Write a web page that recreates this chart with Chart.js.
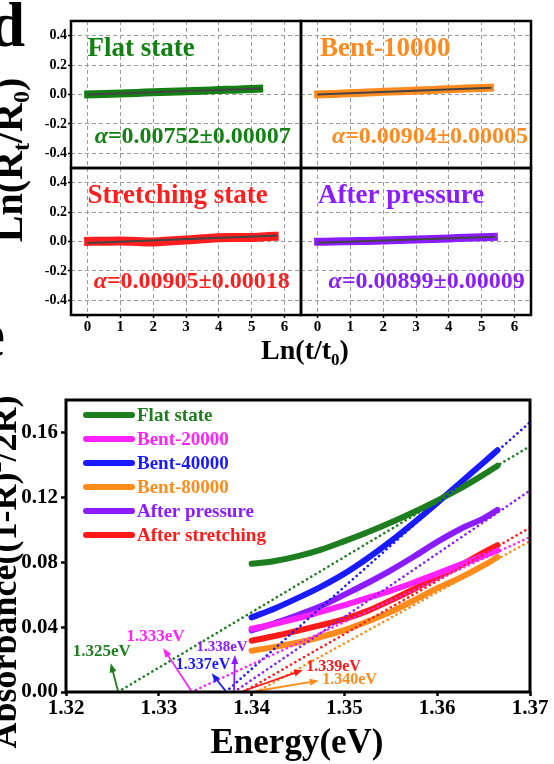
<!DOCTYPE html>
<html>
<head>
<meta charset="utf-8">
<script src="https://cdn.jsdelivr.net/npm/chart.js@4.4.0/dist/chart.umd.min.js"></script>
<style>
  html, body { margin: 0; padding: 0; background: #fff; }
  #page { position: relative; width: 554px; height: 764px; overflow: hidden; background: #fff; }
  #page canvas { position: absolute; left: 0; top: 0; }
</style>
</head>
<body>
<div id="page">
  <canvas id="cTL" width="554" height="764"></canvas>
  <canvas id="cTR" width="554" height="764"></canvas>
  <canvas id="cBL" width="554" height="764"></canvas>
  <canvas id="cBR" width="554" height="764"></canvas>
  <canvas id="cAbs" width="554" height="764"></canvas>
</div>
<script>
// ─────────────────────────────────────────────────────────
//  Data
// ─────────────────────────────────────────────────────────

// panel d : Ln(Rt/R0) vs Ln(t/t0)
const SUB_X_TICKS = [0, 1, 2, 3, 4, 5, 6];
const SUB_Y_TICKS = [-0.4, -0.2, 0, 0.2, 0.4];

const flatLnT  = [-0.1, 0.5, 1, 1.5, 2, 2.5, 3, 3.5, 4, 4.5, 5, 5.35];
const flatLnR  = [0.0, 0.004, 0.007, 0.011, 0.015, 0.019, 0.022, 0.026, 0.030, 0.033, 0.037, 0.040];
const flatFitT = [0, 5.3];
const flatFitR = [0.0, 0.040];

const bentLnT  = [-0.1, 0.5, 1, 1.5, 2, 2.5, 3, 3.5, 4, 4.5, 5, 5.37];
const bentLnR  = [0.0, 0.004, 0.009, 0.013, 0.018, 0.022, 0.027, 0.031, 0.036, 0.040, 0.045, 0.048];
const bentFitT = [0, 5.3];
const bentFitR = [0.0, 0.046];

const strLnT   = [-0.1, 0.5, 1.0, 1.5, 2.0, 2.5, 3.0, 3.5, 4.0, 4.5, 5.0, 5.5, 5.82];
const strLnR   = [0.0, 0.002, 0.003, 0.0, -0.003, 0.003, 0.010, 0.018, 0.026, 0.027, 0.028, 0.034, 0.036];
const strFitT  = [0, 5.8];
const strFitR  = [-0.010, 0.040];

const presLnT  = [-0.1, 0.5, 1, 1.5, 2, 2.5, 3, 3.5, 4, 4.5, 5, 5.49];
const presLnR  = [-0.002, 0.0, 0.002, 0.004, 0.007, 0.010, 0.013, 0.017, 0.021, 0.025, 0.029, 0.033];
const presFitT = [0, 5.4];
const presFitR = [-0.008, 0.032];

// panel e : absorbance vs energy
const ENERGY_TICKS = [1.32, 1.33, 1.34, 1.35, 1.36, 1.37];
const ABS_TICKS    = [0, 0.04, 0.08, 0.12, 0.16];
const ENERGY = [1.340, 1.3425, 1.345, 1.3475, 1.350, 1.3525, 1.355, 1.3575, 1.360, 1.3625, 1.365, 1.3665];

const SERIES_LABELS = ['Flat state', 'Bent-20000', 'Bent-40000', 'Bent-80000', 'After pressure', 'After stretching'];
const absFlat  = [0.0790, 0.0808, 0.0838, 0.0878, 0.0930, 0.0985, 0.1045, 0.1110, 0.1180, 0.1255, 0.1340, 0.1395];
const absB20   = [0.0390, 0.0420, 0.0455, 0.0495, 0.0535, 0.0580, 0.0625, 0.0675, 0.0730, 0.0785, 0.0840, 0.0873];
const absB40   = [0.0460, 0.0515, 0.0580, 0.0650, 0.0730, 0.0825, 0.0930, 0.1045, 0.1165, 0.1290, 0.1415, 0.1490];
const absB80   = [0.0254, 0.0278, 0.0305, 0.0340, 0.0381, 0.0435, 0.0494, 0.0565, 0.0640, 0.0705, 0.0780, 0.0832];
const absPres  = [0.0380, 0.0425, 0.0475, 0.0530, 0.0600, 0.0672, 0.0750, 0.0835, 0.0925, 0.1005, 0.1070, 0.1123];
const absStr   = [0.0316, 0.0345, 0.0378, 0.0412, 0.0450, 0.0500, 0.0565, 0.0635, 0.0710, 0.0780, 0.0860, 0.0905];
const ABS_SERIES = [absFlat, absB20, absB40, absB80, absPres, absStr];

// linear fits: band-gap intercept on the energy axis, value of the fit at 1.37 eV
const GAP_INTERCEPT = [1.3256, 1.3335, 1.3372, 1.3405, 1.3381, 1.3391];
const FIT_AT_137    = [0.1515, 0.0955, 0.1663, 0.0930, 0.1242, 0.1013];
const GAP_LABELS    = ['1.325eV', '1.333eV', '1.337eV', '1.340eV', '1.338eV', '1.339eV'];

// ─────────────────────────────────────────────────────────
//  Styles
// ─────────────────────────────────────────────────────────
const SERIF = "'Liberation Serif', 'Times New Roman', serif";
const W = 554, H = 764;
const SUB_COLORS = { flat: '#128012', bent: '#ff8a1e', str: '#ff1e1e', pres: '#8a1cff' };
const ABS_COLORS = ['#1e7d1e', '#ff22ff', '#1a1aff', '#ff8c1a', '#8b1cff', '#ff1a1a'];

// where the band-gap arrows point and the labels sit (data units)
const GAP_NOTES = [
  { head: [1.32482, 0.0177], text: [1.32385, 0.0221], size: 17 },
  { head: [1.33049, 0.0269], text: [1.32964, 0.0314], size: 17 },
  { head: [1.33570, 0.0115], text: [1.33476, 0.0142], size: 16 },
  { head: [1.34723, 0.0070], text: [1.35055, 0.0049], size: 16 },
  { head: [1.33821, 0.0228], text: [1.33681, 0.0252], size: 15 },
  { head: [1.34552, 0.0135], text: [1.34883, 0.0129], size: 16 }
];

const xy = (xs, ys) => xs.map((x, i) => ({ x, y: ys[i] }));

function boxPlugin(lw) {
  return {
    id: 'box',
    afterDraw(chart) {
      const { ctx, chartArea: a } = chart;
      ctx.save();
      ctx.strokeStyle = '#000';
      ctx.lineWidth = lw;
      ctx.strokeRect(a.left, a.top, a.right - a.left, a.bottom - a.top);
      ctx.restore();
    }
  };
}

function richText(ctx, parts, x, y, align) {
  let total = 0;
  parts.forEach(p => { ctx.font = `bold ${p[1]}px ${SERIF}`; total += ctx.measureText(p[0]).width; });
  let cx = align === 'center' ? x - total / 2 : (align === 'right' ? x - total : x);
  ctx.textAlign = 'left';
  parts.forEach(p => {
    ctx.font = `bold ${p[1]}px ${SERIF}`;
    ctx.fillText(p[0], cx, y + (p[2] || 0));
    cx += ctx.measureText(p[0]).width;
  });
}

// ── SUBPLOTS (panel d) ──────────────────────────────────
function makeSubplot(id, area, cfg) {
  const xH = cfg.xLabels ? 40 : 0;
  const tickFont = { family: SERIF, size: 14, weight: 'bold' };
  return new Chart(document.getElementById(id), {
    type: 'line',
    data: {
      datasets: [
        { data: xy(cfg.fitT, cfg.fitR), borderColor: '#444', borderWidth: 2, pointRadius: 0, order: 0 },
        { data: xy(cfg.bandT, cfg.bandR), borderColor: cfg.color, borderWidth: cfg.band, pointRadius: 0,
          tension: 0.3, borderCapStyle: 'butt', borderJoinStyle: 'round', order: 1 }
      ]
    },
    options: {
      responsive: false, animation: false, events: [],
      layout: { padding: { left: 0, top: area.top, right: W - area.right, bottom: H - area.bottom - xH } },
      plugins: { legend: { display: false }, tooltip: { enabled: false } },
      scales: {
        x: {
          type: 'linear', min: -0.5, max: 6.5,
          afterBuildTicks: s => { s.ticks = SUB_X_TICKS.map(v => ({ value: v })); },
          afterFit: s => { s.height = xH; },
          grid: { color: '#9a9a9a', lineWidth: 1, drawTicks: cfg.xLabels, tickLength: 3,
                  tickColor: '#000', tickWidth: 1.5, tickBorderDash: [] },
          border: { display: false, dash: [4, 3] },
          ticks: { display: cfg.xLabels, font: { ...tickFont, size: 15 }, color: '#000', padding: 0,
                   callback: v => String(v) }
        },
        y: {
          type: 'linear', min: -0.5, max: 0.5,
          afterBuildTicks: s => { s.ticks = SUB_Y_TICKS.map(v => ({ value: v })); },
          afterFit: s => { s.width = area.left; },
          grid: { color: '#9a9a9a', lineWidth: 1, drawTicks: cfg.yLabels, tickLength: 3,
                  tickColor: '#000', tickWidth: 1.5, tickBorderDash: [] },
          border: { display: false, dash: [4, 3] },
          ticks: { display: cfg.yLabels, font: tickFont, color: '#000', padding: 1,
                   callback: v => v.toFixed(1) }
        }
      }
    },
    plugins: [boxPlugin(2.5), {
      id: 'subText',
      afterDatasetsDraw(chart) {
        const { ctx, scales: { x, y } } = chart;
        ctx.save();
        ctx.fillStyle = cfg.color;
        ctx.textBaseline = 'alphabetic';
        ctx.textAlign = 'left';
        ctx.font = `bold 27px ${SERIF}`;
        ctx.fillText(cfg.title, x.getPixelForValue(cfg.titleAt[0]), y.getPixelForValue(cfg.titleAt[1]));
        let px = x.getPixelForValue(cfg.alphaAt[0]);
        const py = y.getPixelForValue(cfg.alphaAt[1]);
        ctx.font = `bold italic 24px ${SERIF}`;
        ctx.fillText('α', px, py);
        px += ctx.measureText('α').width;
        ctx.font = `bold 24px ${SERIF}`;
        ctx.fillText('=' + cfg.alpha, px, py);
        ctx.restore();
      }
    }]
  });
}

makeSubplot('cTL', { left: 71, top: 21, right: 301, bottom: 168 }, {
  xLabels: false, yLabels: true, color: SUB_COLORS.flat, band: 8,
  bandT: flatLnT, bandR: flatLnR, fitT: flatFitT, fitR: flatFitR,
  title: 'Flat state', titleAt: [0.0, 0.265], alpha: '0.00752±0.00007', alphaAt: [0.22, -0.33]
});
makeSubplot('cTR', { left: 301, top: 21, right: 531, bottom: 168 }, {
  xLabels: false, yLabels: false, color: SUB_COLORS.bent, band: 8,
  bandT: bentLnT, bandR: bentLnR, fitT: bentFitT, fitR: bentFitR,
  title: 'Bent-10000', titleAt: [0.08, 0.265], alpha: '0.00904±0.00005', alphaAt: [0.44, -0.33]
});
makeSubplot('cBL', { left: 71, top: 168, right: 301, bottom: 315 }, {
  xLabels: true, yLabels: true, color: SUB_COLORS.str, band: 9,
  bandT: strLnT, bandR: strLnR, fitT: strFitT, fitR: strFitR,
  title: 'Stretching state', titleAt: [0.0, 0.262], alpha: '0.00905±0.00018', alphaAt: [0.19, -0.316]
});
makeSubplot('cBR', { left: 301, top: 168, right: 531, bottom: 315 }, {
  xLabels: true, yLabels: false, color: SUB_COLORS.pres, band: 8,
  bandT: presLnT, bandR: presLnR, fitT: presFitT, fitR: presFitR,
  title: 'After pressure', titleAt: [0.02, 0.262], alpha: '0.00899±0.00009', alphaAt: [0.34, -0.316]
});

// ── ABSORBANCE (panel e) ────────────────────────────────
const absArea = { left: 66, top: 400, right: 530, bottom: 692 };
const absFont = { family: SERIF, size: 21, weight: 'bold' };

const absDatasets = [];
ABS_SERIES.forEach((vals, i) => {
  absDatasets.push({
    label: SERIES_LABELS[i], data: xy(ENERGY, vals),
    borderColor: ABS_COLORS[i], borderWidth: 6, pointRadius: 0, tension: 0.3,
    borderCapStyle: 'round', order: 2
  });
});
GAP_INTERCEPT.forEach((x0, i) => {
  absDatasets.push({
    label: 'fit', data: [{ x: x0, y: 0 }, { x: 1.37, y: FIT_AT_137[i] }],
    borderColor: ABS_COLORS[i], borderWidth: 2.6, borderDash: [0.1, 4.9], borderCapStyle: 'round',
    pointRadius: 0, order: 1
  });
});

new Chart(document.getElementById('cAbs'), {
  type: 'line',
  data: { datasets: absDatasets },
  options: {
    responsive: false, animation: false, events: [],
    layout: { padding: { left: 0, top: absArea.top, right: W - absArea.right, bottom: 0 } },
    plugins: { legend: { display: false }, tooltip: { enabled: false } },
    scales: {
      x: {
        type: 'linear', min: 1.32, max: 1.37,
        afterBuildTicks: s => { s.ticks = ENERGY_TICKS.map(v => ({ value: v })); },
        afterFit: s => { s.height = H - absArea.bottom; },
        grid: { drawOnChartArea: false, tickLength: 4, tickColor: '#000', tickWidth: 2.5 },
        border: { display: false },
        ticks: { font: absFont, color: '#000', padding: 0, maxRotation: 0, callback: v => v.toFixed(2) }
      },
      y: {
        type: 'linear', min: 0, max: 0.18,
        afterBuildTicks: s => { s.ticks = ABS_TICKS.map(v => ({ value: v })); },
        afterFit: s => { s.width = absArea.left; },
        grid: { drawOnChartArea: false, tickLength: 5, tickColor: '#000', tickWidth: 2.5 },
        border: { display: false },
        ticks: { font: absFont, color: '#000', padding: 3, callback: v => v.toFixed(2) }
      }
    }
  },
  plugins: [boxPlugin(3), {
    id: 'notes',
    afterDatasetsDraw(chart) {
      const { ctx, chartArea: a, scales: { x, y } } = chart;
      ctx.save();
      // legend
      ctx.textBaseline = 'middle';
      SERIES_LABELS.forEach((lab, i) => {
        const ry = a.top + 15 + i * 24;
        ctx.strokeStyle = ABS_COLORS[i];
        ctx.lineWidth = 6;
        ctx.lineCap = 'round';
        ctx.beginPath(); ctx.moveTo(a.left + 20, ry); ctx.lineTo(a.left + 66, ry); ctx.stroke();
        ctx.fillStyle = ABS_COLORS[i];
        ctx.font = `bold 19px ${SERIF}`;
        ctx.textAlign = 'left';
        ctx.fillText(lab, a.left + 71, ry + 1);
      });
      // band-gap arrows
      ctx.textBaseline = 'alphabetic';
      GAP_NOTES.forEach((n, i) => {
        const x0 = x.getPixelForValue(GAP_INTERCEPT[i]), y0 = y.getPixelForValue(0) - 1;
        const x1 = x.getPixelForValue(n.head[0]), y1 = y.getPixelForValue(n.head[1]);
        const ang = Math.atan2(y1 - y0, x1 - x0);
        ctx.strokeStyle = ctx.fillStyle = ABS_COLORS[i];
        ctx.lineWidth = 1.8;
        ctx.lineCap = 'butt';
        ctx.beginPath(); ctx.moveTo(x0, y0);
        ctx.lineTo(x1 - 6 * Math.cos(ang), y1 - 6 * Math.sin(ang)); ctx.stroke();
        ctx.beginPath();
        ctx.moveTo(x1, y1);
        ctx.lineTo(x1 - 9 * Math.cos(ang) + 3.5 * Math.sin(ang), y1 - 9 * Math.sin(ang) - 3.5 * Math.cos(ang));
        ctx.lineTo(x1 - 9 * Math.cos(ang) - 3.5 * Math.sin(ang), y1 - 9 * Math.sin(ang) + 3.5 * Math.cos(ang));
        ctx.closePath(); ctx.fill();
        ctx.font = `bold ${n.size}px ${SERIF}`;
        ctx.textAlign = 'center';
        ctx.fillText(GAP_LABELS[i], x.getPixelForValue(n.text[0]), y.getPixelForValue(n.text[1]));
      });
      ctx.restore();
    },
    afterDraw(chart) {
      // page-level titles and panel letters
      const ctx = chart.ctx;
      ctx.save();
      ctx.fillStyle = '#000';
      ctx.textBaseline = 'alphabetic';
      ctx.font = `bold 64px ${SERIF}`;
      ctx.textAlign = 'left';
      ctx.fillText('d', 25 - ctx.measureText('d').width, 46);
      ctx.fillText('e', 5 - ctx.measureText('e').width, 356);

      richText(ctx, [['Ln(t/t', 28], ['0', 17, 6], [')', 28]], 305, 359, 'center');
      richText(ctx, [['Energy(eV)', 35]], 297, 753, 'center');

      ctx.save();
      ctx.translate(22, 160);
      ctx.rotate(-Math.PI / 2);
      richText(ctx, [['Ln(R', 40], ['t', 24, 7], ['/R', 40], ['0', 24, 7], [')', 40]], 0, 0, 'center');
      ctx.restore();

      ctx.save();
      ctx.translate(16, 572);
      ctx.rotate(-Math.PI / 2);
      richText(ctx, [['Absorbance((1-R)', 36], ['2', 22, -15], ['/2R)', 36]], 0, 0, 'center');
      ctx.restore();
      ctx.restore();
    }
  }]
});
</script>
</body>
</html>
